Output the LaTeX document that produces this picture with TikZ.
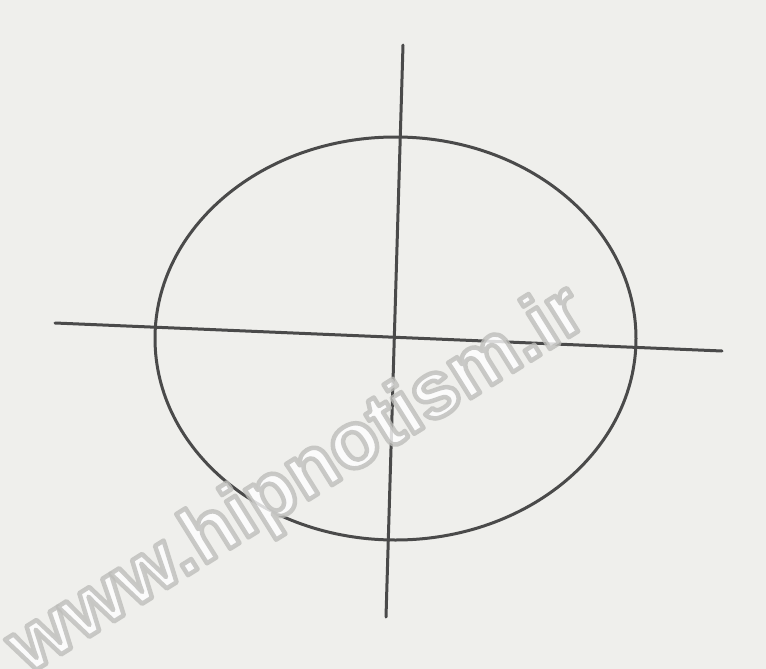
\documentclass[tikz,border=0pt]{standalone}
\usepackage{fontspec}
\newfontfamily\wmfont{Liberation Sans}
\definecolor{paper}{HTML}{EFEFEC}
\definecolor{ink}{HTML}{4A4A4A}
\tikzset{
  penline/.style={draw=ink, line width=3pt, line cap=round},
  wmtext/.style={font=\wmfont\bfseries\fontsize{80}{80}\selectfont, rotate=32, inner sep=0pt, text=white}
}
\newcommand{\outlinetext}[1]{\special{pdf:literal direct 2 Tr 4.5 w 1 j 0.74 0.74 0.73 RG}#1\special{pdf:literal direct 0 Tr}}
\begin{document}
\begin{tikzpicture}[x=1pt,y=-1pt]
  \fill[paper] (0,0) rectangle (766,669);
  \useasboundingbox (0,0) rectangle (766,669);
  % ellipse
  \draw[penline] (395.5,338.5) ellipse [x radius=240.5, y radius=201.5];
  % cross
  \coordinate (hl) at (55,323);
  \coordinate (hr) at (722,351);
  \coordinate (vt) at (403,45);
  \coordinate (vb) at (386,617);
  \draw[penline] (hl) -- (hr);
  \draw[penline] (vt) -- (vb);
  % watermark
  \node[wmtext, opacity=0.8] (wm) at (298,482) {\outlinetext{www.hipnotism.ir}};
\end{tikzpicture}
\end{document}
